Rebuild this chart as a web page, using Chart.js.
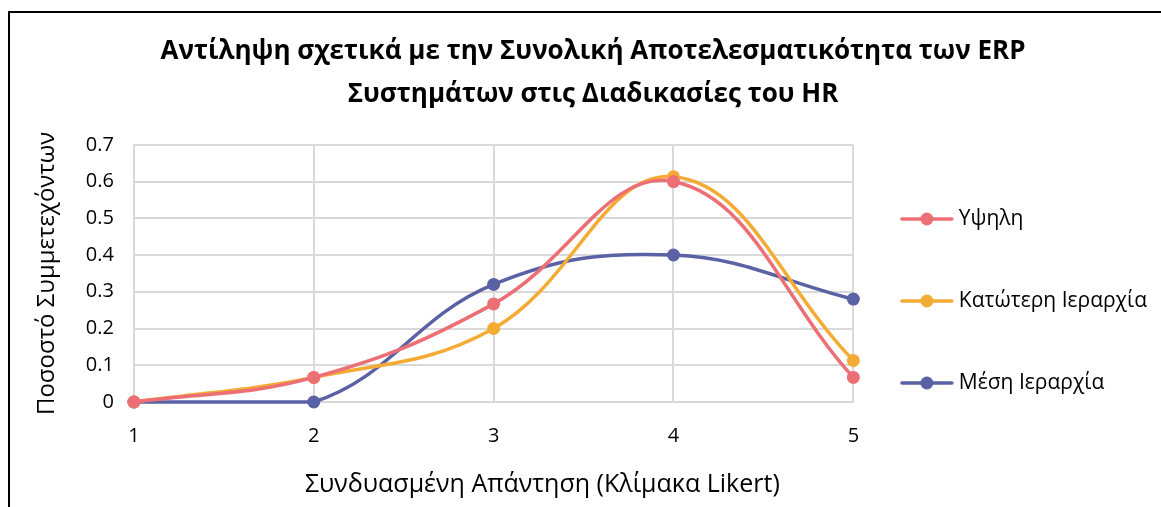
<!DOCTYPE html>
<html>
<head>
<meta charset="utf-8">
<script src="https://cdn.jsdelivr.net/npm/chart.js@4"></script>
<style>
  html, body { margin: 0; padding: 0; background: #fff; }
  #frame {
    position: absolute; left: 8px; top: 11px; width: 1170px; height: 510px;
    border-left: 2px solid #000; border-top: 2px solid #000;
  }
  #wrap { position: absolute; left: -10px; top: -13px; width: 1161px; height: 507px; }
</style>
</head>
<body>
<div id="frame"><div id="wrap"><canvas id="myChart"></canvas></div></div>
<script>
// δεδομένα (Κλίμακα Likert 1-5)
var likert = ['1', '2', '3', '4', '5'];
var ypsili = [0, 0.067, 0.267, 0.6, 0.067];
var katoteri = [0, 0.067, 0.2, 0.613, 0.113];
var mesi = [0, 0, 0.32, 0.4, 0.28];
var seriesNames = ['Υψηλη', 'Κατώτερη Ιεραρχία', 'Μέση Ιεραρχία'];
var seriesColors = ['#ED6F76', '#F4AB33', '#5A62A5'];

var FONT = "'Open Sans', 'Noto Sans', sans-serif";

// εικονίδιο λεζάντας: γραμμή + κουκκίδα (με κενό δεξιά για να μετατοπιστεί αριστερά)
function legendIcon(color) {
    var c = document.createElement('canvas');
    c.width = 63; c.height = 14;
    var g = c.getContext('2d');
    g.strokeStyle = color; g.lineWidth = 3.5; g.lineCap = 'round';
    g.beginPath(); g.moveTo(2, 7); g.lineTo(52, 7); g.stroke();
    g.fillStyle = color;
    g.beginPath(); g.arc(27, 7, 6.5, 0, Math.PI * 2); g.fill();
    return c;
}

function makeSet(label, data, color) {
    return {
        label: label,
        data: data,
        borderColor: color,
        backgroundColor: color,
        borderWidth: 3.5,
        pointRadius: 6.5,
        pointHoverRadius: 6.5,
        pointBorderWidth: 0,
        pointStyle: 'circle',
        tension: 0.4,
        clip: false
    };
}

var ctx = document.getElementById('myChart');
var myChart = new Chart(ctx, {
    type: 'line',
    data: {
        labels: likert,
        datasets: [
            makeSet(seriesNames[0], ypsili, seriesColors[0]),
            makeSet(seriesNames[1], katoteri, seriesColors[1]),
            makeSet(seriesNames[2], mesi, seriesColors[2])
        ]
    },
    options: {
        responsive: true,
        maintainAspectRatio: false,
        animation: false,
        layout: { padding: { left: 29, right: 4, top: 30, bottom: 3 } },
        plugins: {
            title: {
                display: true,
                text: ['Αντίληψη σχετικά με την Συνολική Αποτελεσματικότητα των ERP', 'Συστημάτων στις Διαδικασίες του HR'],
                color: '#000',
                font: { family: FONT, size: 26, weight: 'bold', lineHeight: 1.65 },
                padding: { top: 0, bottom: 29 }
            },
            legend: {
                position: 'right',
                align: 'center',
                maxWidth: 400,
                title: { display: true, text: ' ', padding: { top: 44, bottom: 0 }, font: { size: 20 } },
                labels: {
                    usePointStyle: true,
                    pointStyleWidth: 34,
                    padding: 61,
                    color: '#000',
                    font: { family: FONT, size: 21 },
                    generateLabels: function (chart) {
                        return chart.data.datasets.map(function (ds, i) {
                            return {
                                text: ds.label,
                                pointStyle: legendIcon(ds.borderColor),
                                fillStyle: ds.borderColor,
                                strokeStyle: ds.borderColor,
                                lineWidth: 0,
                                datasetIndex: i,
                                fontColor: '#000'
                            };
                        });
                    }
                }
            },
            tooltip: { enabled: false }
        },
        scales: {
            x: {
                offset: false,
                grid: { color: '#d9d9d9', lineWidth: 2, drawTicks: false },
                border: { color: '#d9d9d9', width: 2 },
                ticks: { color: '#000', font: { family: FONT, size: 20 }, padding: 22 },
                title: {
                    display: true,
                    text: '               Συνδυασμένη Απάντηση (Κλίμακα Likert)',
                    color: '#000',
                    font: { family: FONT, size: 25 },
                    padding: { top: 0 }
                }
            },
            y: {
                min: 0,
                max: 0.7,
                ticks: { stepSize: 0.1, color: '#000', font: { family: FONT, size: 20 }, padding: 20 },
                grid: { color: '#d9d9d9', lineWidth: 2, drawTicks: false },
                border: { color: '#d9d9d9', width: 2 },
                title: {
                    display: true,
                    text: 'Ποσοστό Συμμετεχόντων',
                    color: '#000',
                    font: { family: FONT, size: 24 },
                    padding: { top: 4, bottom: 4 }
                }
            }
        }
    }
});
</script>
</body>
</html>
